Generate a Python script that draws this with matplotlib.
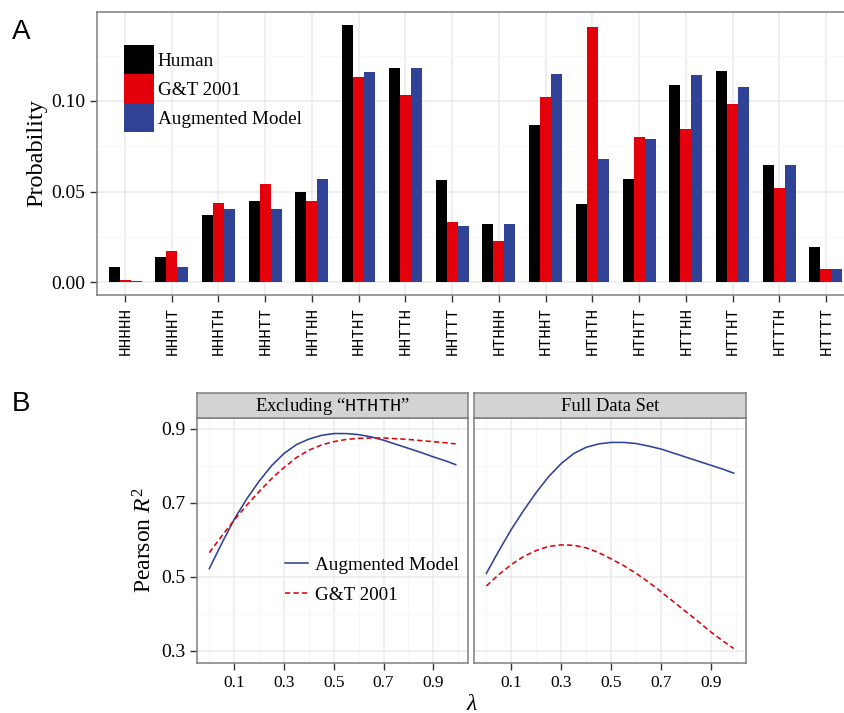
import numpy as np
import matplotlib
matplotlib.use("Agg")
import matplotlib.pyplot as plt
from matplotlib.patches import Patch, Rectangle
from matplotlib.lines import Line2D
from matplotlib.legend_handler import HandlerPatch

plt.rcParams['font.family'] = ['Liberation Serif', 'DejaVu Serif']
plt.rcParams['mathtext.fontset'] = 'custom'
plt.rcParams['mathtext.rm'] = 'Liberation Serif'
plt.rcParams['mathtext.it'] = 'Liberation Serif:italic'
plt.rcParams['mathtext.tt'] = 'Liberation Mono'

# --- panel A data ---
sequences = ['HHHHH', 'HHHHT', 'HHHTH', 'HHHTT', 'HHTHH', 'HHTHT', 'HHTTH', 'HHTTT',
             'HTHHH', 'HTHHT', 'HTHTH', 'HTHTT', 'HTTHH', 'HTTHT', 'HTTTH', 'HTTTT']
human = [0.0083, 0.0138, 0.0370, 0.0448, 0.0497, 0.1420, 0.1182, 0.0564,
         0.0320, 0.0867, 0.0431, 0.0569, 0.1088, 0.1166, 0.0646, 0.0193]
gt2001 = [0.0011, 0.0171, 0.0436, 0.0541, 0.0448, 0.1133, 0.1033, 0.0331,
          0.0227, 0.1022, 0.1409, 0.0801, 0.0845, 0.0983, 0.0519, 0.0072]
augmented = [0.0005, 0.0083, 0.0403, 0.0403, 0.0569, 0.1160, 0.1182, 0.0309,
             0.0320, 0.1149, 0.0680, 0.0790, 0.1144, 0.1077, 0.0646, 0.0072]

# --- panel B data ---
lam = [0.0, 0.05, 0.1, 0.15, 0.2, 0.25, 0.3, 0.35, 0.4, 0.45, 0.5,
       0.55, 0.6, 0.65, 0.7, 0.75, 0.8, 0.85, 0.9, 0.95, 0.99]
excl_aug = [0.522, 0.590, 0.655, 0.710, 0.758, 0.800, 0.833, 0.857, 0.872, 0.882, 0.887,
            0.887, 0.884, 0.878, 0.869, 0.858, 0.847, 0.836, 0.824, 0.813, 0.803]
excl_gt = [0.565, 0.610, 0.653, 0.693, 0.730, 0.765, 0.795, 0.822, 0.842, 0.856, 0.865,
           0.871, 0.874, 0.875, 0.875, 0.873, 0.871, 0.868, 0.865, 0.862, 0.859]
full_aug = [0.509, 0.570, 0.628, 0.680, 0.728, 0.771, 0.806, 0.833, 0.850, 0.859, 0.863,
            0.863, 0.860, 0.853, 0.845, 0.834, 0.823, 0.812, 0.801, 0.790, 0.780]
full_gt = [0.475, 0.506, 0.533, 0.555, 0.571, 0.582, 0.586, 0.585, 0.578, 0.565, 0.548,
           0.530, 0.509, 0.485, 0.459, 0.432, 0.405, 0.378, 0.350, 0.325, 0.306]

BLACK = '#000000'
RED = '#e3000b'
BLUE = '#2f4296'
GRID_MAJ = '#ebebeb'
GRID_MIN = '#f7f7f7'
BORDER = '#7f7f7f'
LW = 1.15
DASH = (0, (3.3, 2.0))

W, H = 844, 713
fig = plt.figure(figsize=(W / 100, H / 100), dpi=100)


def box(x0, y0, x1, y1):
    # pixel box -> figure fraction
    return [x0 / W, 1 - y1 / H, (x1 - x0) / W, (y1 - y0) / H]


def style_axes(ax):
    for s in ax.spines.values():
        s.set_color(BORDER)
        s.set_linewidth(1.1)
    ax.tick_params(which='major', length=5, width=1, color='#333333', labelcolor='black')
    ax.tick_params(which='minor', length=0)
    ax.grid(which='major', color=GRID_MAJ, lw=1.1, zorder=0)
    ax.grid(which='minor', color=GRID_MIN, lw=0.8, zorder=0)
    ax.set_axisbelow(True)


# legend key filling the whole handle box (square ggplot-like keys)
def full_key(legend, orig_handle, xdescent, ydescent, width, height, fontsize):
    return Rectangle((-xdescent, -ydescent), width, height)


# ---------------- Panel A ----------------
ax = fig.add_axes(box(97, 12, 854, 295))
x = np.arange(1, len(sequences) + 1)
bw = 0.235
ax.bar(x - bw, human, bw, color=BLACK, label='Human', zorder=2)
ax.bar(x, gt2001, bw, color=RED, label='G&T 2001', zorder=2)
ax.bar(x + bw, augmented, bw, color=BLUE, label='Augmented Model', zorder=2)
ax.set_xlim(0.4, len(sequences) + 0.6)
ax.set_ylim(-0.0071, 0.1491)
ax.set_xticks(x)
ax.set_xticklabels(sequences, rotation=90, family='Liberation Mono', fontsize=11.5)
ax.set_yticks([0.0, 0.05, 0.10])
ax.set_yticklabels(['0.00', '0.05', '0.10'], fontsize=14)
ax.set_yticks([0.025, 0.075, 0.125], minor=True)
style_axes(ax)
ax.set_ylabel('Probability', fontsize=17.5, labelpad=3)

handles = [Patch(facecolor=BLACK, edgecolor='none'),
           Patch(facecolor=RED, edgecolor='none'),
           Patch(facecolor=BLUE, edgecolor='none')]
ax.legend(handles, ['Human', 'G&T 2001', 'Augmented Model'], loc='upper left',
          bbox_to_anchor=((124 - 97) / 757, 1 - (45 - 12) / 283), borderaxespad=0,
          borderpad=0, frameon=False, fontsize=13.8, handlelength=1.56,
          handleheight=1.95, labelspacing=0, handletextpad=0.2,
          handler_map={Patch: HandlerPatch(patch_func=full_key)})

fig.text(12 / W, 1 - 32 / H, 'A', family='Liberation Sans', fontsize=20, va='center')
fig.text(12 / W, 1 - 404 / H, 'B', family='Liberation Sans', fontsize=20, va='center')

# ---------------- Panel B ----------------
panels = [
    ((197, 468), 'Excluding \u201c$\\mathtt{HTHTH}$\u201d', excl_aug, excl_gt),
    ((474, 746), 'Full Data Set', full_aug, full_gt),
]
axes_b = []
for i, ((x0, x1), title, aug, gt) in enumerate(panels):
    axb = fig.add_axes(box(x0, 418, x1, 663))
    axb.plot(lam, aug, color=BLUE, lw=LW, label='Augmented Model', zorder=3)
    axb.plot(lam, gt, color=RED, lw=LW, ls=DASH, label='G&T 2001', zorder=3)
    axb.set_xlim(-0.0495, 1.0395)
    axb.set_ylim(0.2668, 0.929)
    axb.set_xticks([0.1, 0.3, 0.5, 0.7, 0.9])
    axb.set_xticklabels(['0.1', '0.3', '0.5', '0.7', '0.9'], fontsize=12.5)
    axb.set_xticks([0.0, 0.2, 0.4, 0.6, 0.8, 1.0], minor=True)
    axb.set_yticks([0.3, 0.5, 0.7, 0.9])
    axb.set_yticks([0.4, 0.6, 0.8], minor=True)
    style_axes(axb)
    if i == 0:
        axb.set_yticklabels(['0.3', '0.5', '0.7', '0.9'], fontsize=14)
        axb.set_ylabel('Pearson $R^2$', fontsize=17, labelpad=3)
    else:
        axb.tick_params(axis='y', which='both', left=False, labelleft=False)

    strip = fig.add_axes(box(x0, 393, x1, 418))
    strip.set_facecolor('#d3d3d3')
    strip.set_xticks([])
    strip.set_yticks([])
    for s in strip.spines.values():
        s.set_color(BORDER)
        s.set_linewidth(1.1)
    strip.text(0.5, 0.47, title, ha='center', va='center', fontsize=13.4,
               transform=strip.transAxes)
    axes_b.append(axb)

leg_handles = [Line2D([], [], color=BLUE, lw=LW),
               Line2D([], [], color=RED, lw=LW, ls=DASH)]
axes_b[0].legend(leg_handles, ['Augmented Model', 'G&T 2001'], loc='center left',
                 bbox_to_anchor=((285 - 197) / 271, 1 - (580 - 418) / 245),
                 frameon=False, fontsize=13.8, handlelength=1.2, handletextpad=0.36,
                 borderaxespad=0, borderpad=0, labelspacing=0.66)

fig.text(472 / W, 1 - 704 / H, '$\\lambda$', ha='center', va='center', fontsize=17)

fig.savefig('out.png', dpi=100)
